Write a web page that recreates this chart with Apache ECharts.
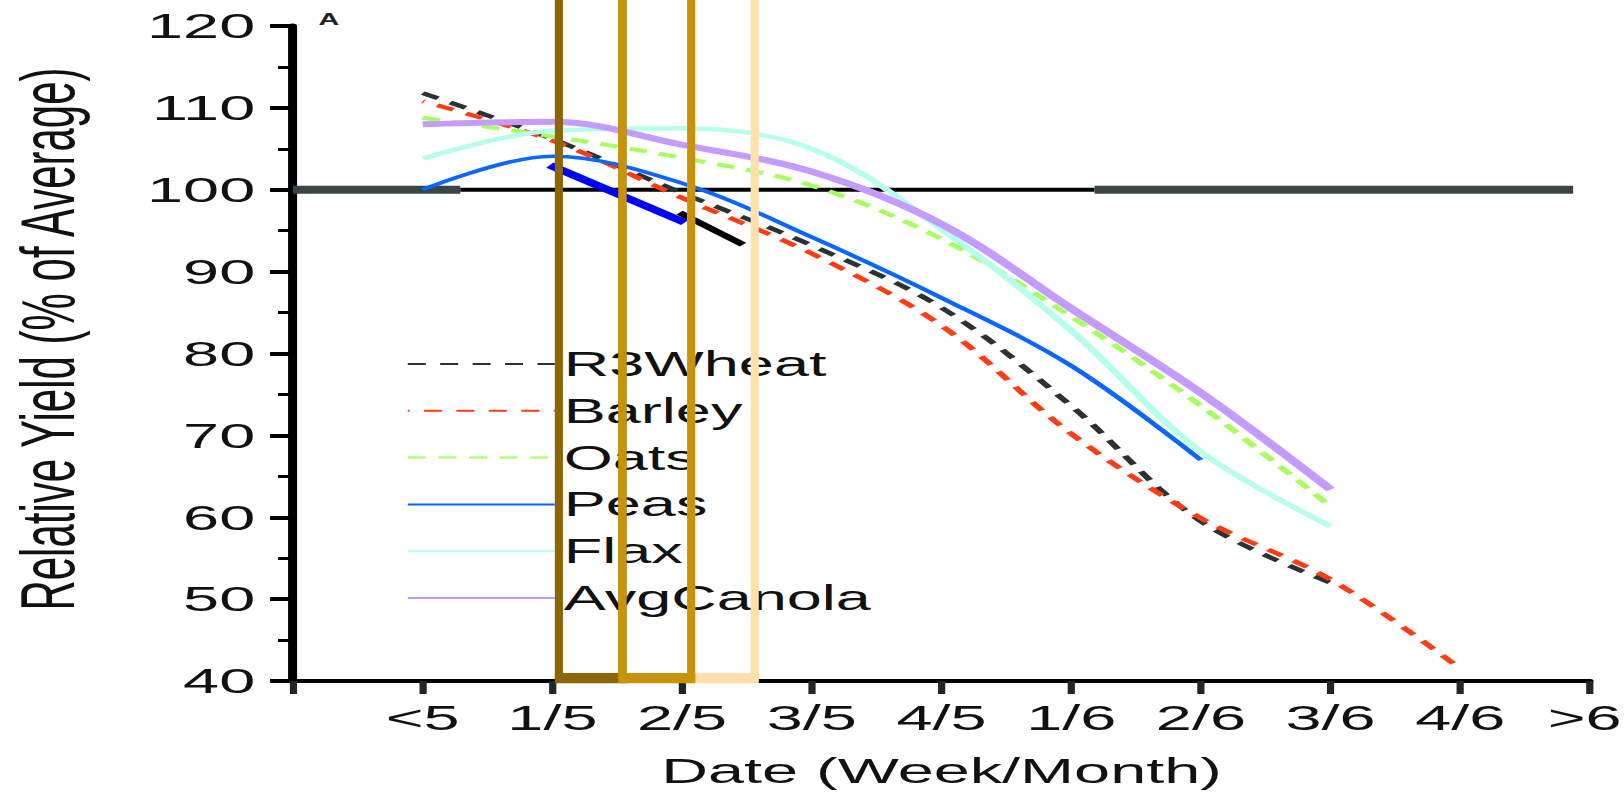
<!DOCTYPE html>
<html>
<head>
<meta charset="utf-8">
<script src="https://cdn.jsdelivr.net/npm/echarts@6/dist/echarts.min.js"></script>
<style>
  html, body { margin: 0; padding: 0; background: #fff; overflow: hidden; }
  #chart { position: absolute; left: 0; top: 0; width: 902px; height: 793px; transform-origin: 0 0; }
</style>
</head>
<body>
<div id="chart"></div>
<script>
// Date positions along the horizontal axis (week / month)
const weekLabels = ['', '<5', '1/5', '2/5', '3/5', '4/5', '1/6', '2/6', '3/6', '4/6', '>6'];

// Relative yield (% of average) for each seeding date; null = no value
const r3Wheat   = [null, 111.8, 106.2,  99.6,  93.2, 85.6, 73.6, 59.5, 52.0, null, null];
const barley    = [null, 110.8, 106.0,  99.0,  92.2, 83.4, 70.2, 59.9, 52.4, 41.5, null];
const oats      = [null, 108.8, 106.5, 103.9, 100.5, 94.0, 84.5, 73.6, 61.3, null, null];
const peas      = [null, 100.0, 104.1, 100.8,  94.2, 86.8, 78.5, 67.0, null, null, null];
const flax      = [null, 103.8, 107.2, 107.5, 105.0, 95.2, 82.8, 68.0, 58.9, null, null];
const avgCanola = [null, 108.0, 108.3, 105.5, 102.2, 95.8, 85.5, 75.2, 63.4, null, null];

// Straight trend segments, [date position, yield]
const trendBlue  = [[1.98, 103.0], [3.02, 96.0]];
const trendBlack = [[2.98, 97.2], [3.47, 93.3]];

// 100 % reference line, drawn in three pieces
const refLevel = 100;
const refStart = [0, 1.29, 6.18];
const refEnd   = [1.29, 6.18, 9.87];

// Seeding windows, in date-axis units
const windowStart = [2.05, 2.54, 3.07];
const windowEnd   = [2.54, 3.07, 3.56];

// ---------------------------------------------------------------
const FONT = "'Liberation Sans', Arial, Helvetica, sans-serif";
const TEXT = '#111';
const el = document.getElementById('chart');
const SX = 1624 / 902;                 // horizontal stretch of the whole figure
el.style.transform = 'scaleX(' + SX + ')';
const px = v => v / SX;                // page-space horizontal size -> chart space

const toPairs = arr => arr.map((v, i) => (v == null ? null : [i, v])).filter(Boolean);

function curve(name, values, color, width, dash, offset) {
  return {
    name, type: 'line', data: toPairs(values), smooth: 0.35,
    symbol: 'none', showSymbol: false, silent: true, z: 3,
    lineStyle: { color, width, type: dash || 'solid', dashOffset: offset || 0 },
    itemStyle: { color }
  };
}

const windowColors = ['#8c6505', '#c8930b', '#ffe0aa'];
const windowOrder = [1, 3, 2];

const refSeries = refStart.map((s, i) => ({
  type: 'line', silent: true, symbol: 'none', z: 2,
  data: [[s, refLevel], [refEnd[i], refLevel]],
  lineStyle: { color: i === 1 ? '#000' : '#3a4545', width: i === 1 ? 4 : 8 }
}));

const lastTick = weekLabels.length - 1;

const chart = echarts.init(el, null, { renderer: 'svg' });
chart.setOption({
  animation: false,
  backgroundColor: '#fff',
  grid: {
    left: px(293), right: px(1624 - 1590), top: 26, bottom: 112,
    containLabel: false, outerBoundsMode: 'none'
  },
  legend: {
    data: ['R3Wheat', 'Barley', 'Oats', 'Peas', 'Flax', 'AvgCanola'],
    orient: 'vertical', left: px(406), top: 340.6, padding: 0,
    itemGap: 0, itemWidth: px(147), itemHeight: 14, selectedMode: false,
    itemStyle: { opacity: 0 },
    textStyle: { fontSize: 35, lineHeight: 46.8, color: TEXT, fontFamily: FONT }
  },
  xAxis: {
    type: 'value', min: 0, max: 10, interval: 1,
    axisLine: { show: true, lineStyle: { color: '#000', width: 4 } },
    axisTick: { show: true, length: 13, lineStyle: { color: '#1e2828', width: 4 } },
    axisLabel: {
      formatter: v => {
        const i = Math.round(v);
        const t = weekLabels[i] || '';
        return i === lastTick ? '{edge|' + t + '}' : t;
      },
      fontSize: 36, color: TEXT, margin: 19, fontFamily: FONT,
      rich: { edge: { fontSize: 36, color: TEXT, fontFamily: FONT, padding: [0, 6, 0, 0] } }
    },
    splitLine: { show: false },
    name: 'Date (Week/Month)', nameLocation: 'middle', nameGap: 75,
    nameTextStyle: { fontSize: 36, lineHeight: 30, color: TEXT, fontFamily: FONT }
  },
  yAxis: {
    type: 'value', min: 40, max: 120, interval: 10,
    axisLine: { show: true, lineStyle: { color: '#000', width: 5 } },
    axisTick: { show: true, length: px(23), lineStyle: { color: '#000', width: 4 } },
    minorTick: { show: true, splitNumber: 2, length: px(15), lineStyle: { color: '#000', width: 3 } },
    axisLabel: { fontSize: 36, color: TEXT, margin: 21, fontFamily: FONT },
    splitLine: { show: false }
  },
  graphic: [
    {
      type: 'text', x: px(48), y: 339, rotation: Math.PI / 2, silent: true,
      style: { text: 'Relative Yield (% of Average)', fontSize: 42, fill: TEXT,
               fontFamily: FONT, align: 'center', verticalAlign: 'middle' }
    },
    {
      type: 'text', x: px(329), y: 20, silent: true,
      style: { text: 'A', fontSize: 16, fontWeight: 'bold', fill: '#222',
               fontFamily: FONT, align: 'center', verticalAlign: 'middle' }
    }
  ],
  series: [
    ...refSeries,
    curve('R3Wheat', r3Wheat, '#2a3232', 4, [10, 8], 0),
    curve('Barley', barley, '#ff3c14', 4, [10, 8], 9),
    curve('Oats', oats, '#a6ff5c', 4, [10, 7], 0),
    curve('Peas', peas, '#0a66ff', 3.5),
    curve('Flax', flax, '#b6ffea', 4.5),
    curve('AvgCanola', avgCanola, '#c49cff', 6),
    {
      type: 'line', silent: true, symbol: 'none', z: 4, data: trendBlue,
      lineStyle: { color: '#0000ff', width: 6.6 }
    },
    {
      type: 'line', silent: true, symbol: 'none', z: 4, data: trendBlack,
      lineStyle: { color: '#000', width: 5.2 }
    },
    {
      type: 'custom', silent: true, clip: false, z: 10,
      data: windowStart.map((s, i) => [s, windowEnd[i]]),
      encode: { x: [0, 1] },
      renderItem(params, api) {
        const i = params.dataIndex;
        const color = windowColors[i];
        const pb = api.coord([api.value(0), 40]);
        const pt = api.coord([api.value(1), 125]);
        const w = pt[0] - pb[0];
        return {
          type: 'group', z2: windowOrder[i],
          children: [
            { type: 'rect', z2: windowOrder[i],
              shape: { x: pb[0], y: pt[1], width: w, height: pb[1] - pt[1] },
              style: { fill: 'none', stroke: color, lineWidth: 4.5 } },
            { type: 'rect', z2: windowOrder[i],
              shape: { x: pb[0] - 2.25, y: pb[1] - 8, width: w + 4.5, height: 8 },
              style: { fill: color } }
          ]
        };
      }
    }
  ]
});
</script>
</body>
</html>
